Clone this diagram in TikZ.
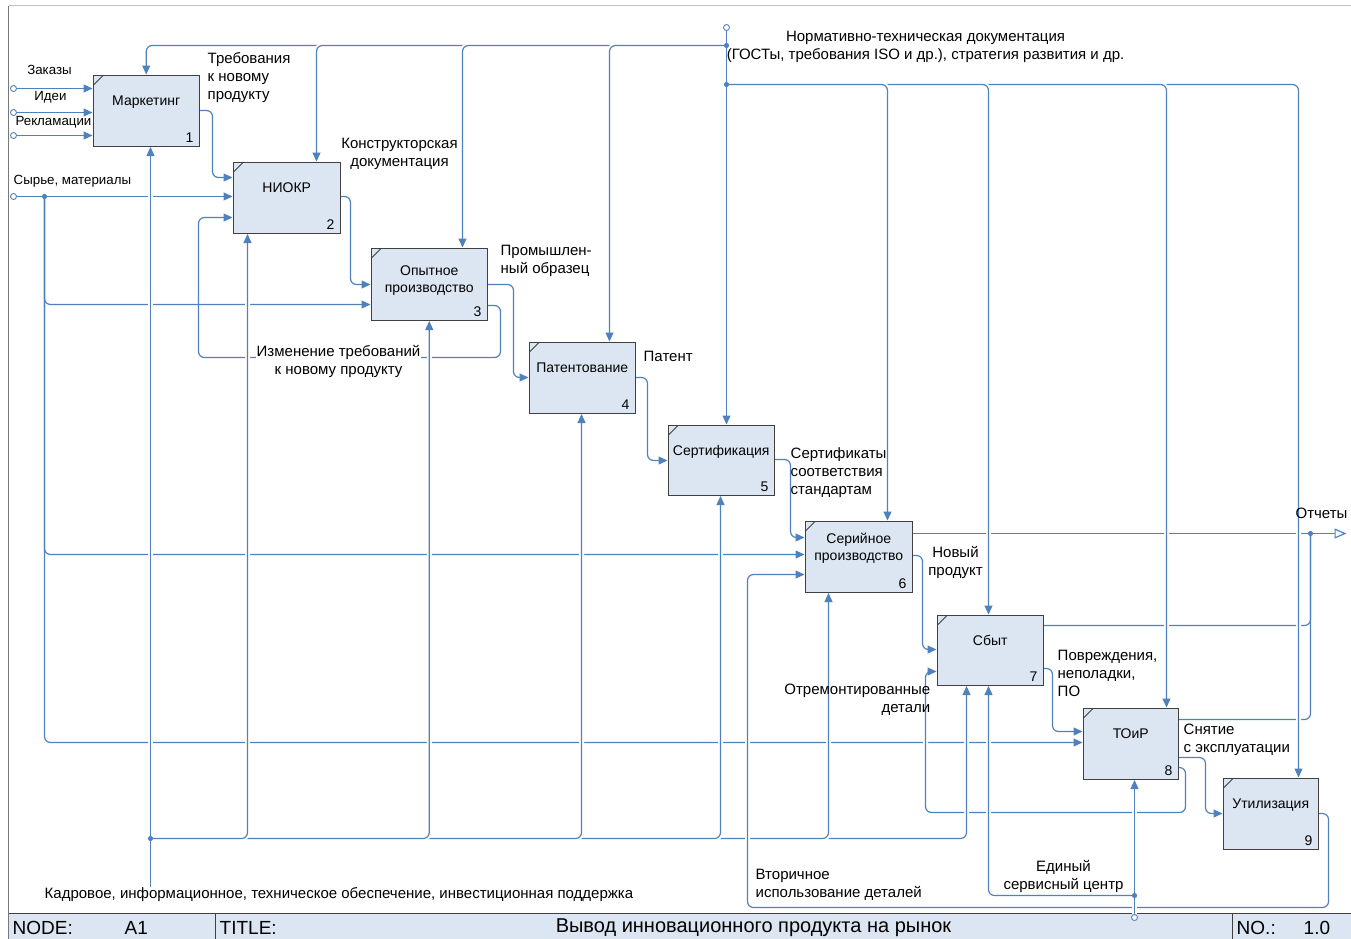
\documentclass[tikz,border=0pt]{standalone}
\usepackage{fontspec}
\setmainfont{Liberation Sans}
\usetikzlibrary{positioning, arrows.meta}
\definecolor{flowblue}{RGB}{79,129,189}
\definecolor{boxfill}{RGB}{220,230,242}
\definecolor{boxline}{RGB}{64,64,64}
\definecolor{framegray}{RGB}{120,120,120}
\newcommand{\boxfont}{\fontsize{14}{17}\selectfont}
\newcommand{\twolines}[2]{\begin{tabular}{@{}c@{}}#1\\#2\end{tabular}}
\tikzset{func/.style={
        draw=boxline,
        fill=boxfill,
        line width=1.5pt,
        anchor=north west,
        minimum width=106pt,
        minimum height=71pt,
        inner sep=0pt,
        text height=11pt,
        text depth=21pt,
        font=\boxfont,
        path picture={
          \draw[boxline, line width=0.9pt] ([yshift=-10pt]path picture bounding box.north west) -- ([xshift=10pt]path picture bounding box.north west);
          \node[anchor=south east, draw=none, fill=none, minimum width=0pt, minimum height=0pt, inner sep=0pt, text height={}, text depth={}] at ([xshift=-5pt,yshift=3pt]path picture bounding box.south east) {#1};
        }
}}
\tikzset{flow/.style={
        draw=flowblue,
        line width=1.2pt,
        rounded corners=6pt,
        -{Triangle[length=9pt,width=8pt]}
}}
\tikzset{over/.style={preaction={draw=white, line width=5pt, -}}}
\tikzset{port/.style={
        circle,
        draw=flowblue,
        fill=white,
        line width=0.9pt,
        inner sep=0pt,
        minimum size=6pt
}}
\tikzset{lbl/.style={font=\fontsize{15}{18}\selectfont, inner sep=0pt, align=left}}
\tikzset{inlbl/.style={font=\fontsize{13.3}{16}\selectfont, inner sep=0pt}}
\tikzset{bar/.style={font=\fontsize{19}{21}\selectfont, inner sep=0pt}}

\begin{document}
\begin{tikzpicture}[x=1pt, y=-1pt]
\useasboundingbox (0,0) rectangle (1351,938);
\begin{scope}[shift={(0.5,0.5)}]

% frame and title bar
\fill[boxfill] (8,913) rectangle (1351,938);
\draw[gray!50, line width=1pt] (8,5) -- (1351,5);
\draw[framegray, line width=1.5pt] (8,5) -- (8,938);
\draw[boxline, line width=1.6pt] (8,913) -- (1351,913);
\draw[boxline, line width=1.2pt] (215,913) -- (215,938) (1232,913) -- (1232,938);
\node[bar, anchor=west] (tNode) at (12,927) {NODE:};
\node[bar, anchor=west] (tA1) at (124,927) {A1};
\node[bar, anchor=west] (tTitle) at (219,927) {TITLE:};
\node[bar, font=\fontsize{20}{22}\selectfont] (tName) at (753,927) {Вывод инновационного продукта на рынок};
\node[bar, anchor=west] (tNo) at (1236,927) {NO.:};
\node[bar, anchor=west] (tVer) at (1303,927) {1.0};

% functions
\node[func=1] (mkt) at (92,74) {Маркетинг};
\node[func=2, minimum width=107pt] (niokr) at (232,161) {НИОКР};
\node[func=3, minimum width=116pt, minimum height=72pt, text depth=12pt] (opyt) at (370,247) {\twolines{Опытное}{производство}};
\node[func=4] (pat) at (528,341) {Патентование};
\node[func=5, minimum height=70pt] (sert) at (667,424) {Сертификация};
\node[func=6, minimum width=107pt] (ser) at (804,520) {\twolines{Серийное}{производство}};
\node[func=7, minimum height=70pt] (sbyt) at (936,614) {Сбыт};
\node[func=8, minimum width=95pt] (toir) at (1082,707) {ТОиР};
\node[func=9, minimum width=95pt] (util) at (1222,777) {Утилизация};

% ends and junctions
\node[port] (oOrd) at (13,88) {};
\node[port] (oIdea) at (13,112) {};
\node[port] (oCompl) at (13,135) {};
\node[port] (oRaw) at (13,196) {};
\node[port] (oNorm) at (726,27) {};
\node[port] (oServ) at (1134,917) {};
\coordinate (jRaw) at (44,196);
\coordinate (jNorm1) at (726,45);
\coordinate (jNorm2) at (726,84);
\coordinate (jMech) at (150,838);
\coordinate (jRep) at (1310,533);
\coordinate (jServ) at (1134,895);
\coordinate (cRep) at (1346,533);

% inputs
\draw[flow] (oOrd) -- (mkt.west |- oOrd);
\draw[flow] (oIdea) -- (mkt.west |- oIdea);
\draw[flow] (oCompl) -- (mkt.west |- oCompl);
\draw[flow] (oRaw) -- (niokr.west |- oRaw);
\draw[flow] (jRaw) |- (toir.west |- 0,742);
\draw[flow] (jRaw) |- (ser.west |- 0,554);
\draw[flow] (jRaw) |- (opyt.west |- 0,304);

% outputs
\draw[flow] (mkt.east |- 0,110) -| (212,177) -- (niokr.west |- 0,177);
\draw[flow] (niokr.east |- 0,196) -| (350,284) -- (opyt.west |- 0,284);
\draw[flow] (opyt.east |- 0,284) -| (513,377) -- (pat.west |- 0,377);
\draw[flow] (opyt.east |- 0,305) -| (500,357) -| (198,217) -- (niokr.west |- 0,217);
\draw[flow] (pat.east |- 0,377) -| (647,460) -- (sert.west |- 0,460);
\draw[flow] (sert.east |- 0,459) -| (790,537) -- (ser.west |- 0,537);
\draw[flow, -{Triangle[open,length=12pt,width=10pt]}] (ser.east |- 0,533) -- (cRep);
\draw[flow] (ser.east |- 0,555) -| (922,649) -- (sbyt.west |- 0,649);
\draw[flow, -] (sbyt.east |- 0,625) -| (jRep);
\draw[flow] (sbyt.east |- 0,668) -| (1052,731) -- (toir.west |- 0,731);
\draw[flow, -] (toir.east |- 0,719) -| (jRep);
\draw[flow] (toir.east |- 0,757) -| (1205,813) -- (util.west |- 0,813);
\draw[flow, over] (toir.east |- 0,767) -| (1185,812) -| (925,671) [rounded corners=3pt] -- (sbyt.west |- 0,671);

% mechanisms
\draw[flow, over] (jMech) -| (sbyt.south -| 966,0);
\draw[flow, over] (jMech) -| (ser.south -| 828,0);
\draw[flow, over] (jMech) -| (sert.south -| 720,0);
\draw[flow, over] (jMech) -| (pat.south -| 581,0);
\draw[flow, over] (jMech) -| (opyt.south);
\draw[flow, over] (jMech) -| (niokr.south -| 247,0);
\node[lbl, anchor=north west] (lMech) at (44,886.5) {Кадровое, информационное, техническое обеспечение, инвестиционная поддержка};
\draw[flow, over] (lMech.north -| jMech) -- (mkt.south -| jMech);

\draw[flow, over] (util.east |- 0,813) -| (1328,907) -| (747,574) -- (ser.west |- 0,574);

\draw[flow, over] (jServ) -| (sbyt.south -| 988,0);
\draw[flow, over] (oServ) -- (toir.south -| oServ);

% controls
\draw[flow, over] (jNorm2) -| (util.north -| 1298,0);
\draw[flow, over] (jNorm2) -| (toir.north -| 1166,0);
\draw[flow, over] (jNorm2) -| (sbyt.north -| 988,0);
\draw[flow, over] (jNorm2) -| (ser.north -| 887,0);
\draw[flow, over] (jNorm1) -| (mkt.north);
\draw[flow, over] (jNorm1) -| (niokr.north -| 316,0);
\draw[flow, over] (jNorm1) -| (opyt.north -| 462,0);
\draw[flow, over] (jNorm1) -| (pat.north -| 609,0);
\draw[flow] (oNorm) -- (sert.north -| oNorm);

\foreach \j in {jRaw, jNorm1, jNorm2, jMech, jRep, jServ}
  \fill[flowblue] (\j) circle (2.6pt);

% labels
\node[inlbl, anchor=north] (lOrd) at (49,65) {Заказы};
\node[inlbl, anchor=north] (lIdea) at (50,91) {Идеи};
\node[inlbl, anchor=north] (lCompl) at (53,115.5) {Рекламации};
\node[inlbl, anchor=north west] (lRaw) at (13,175) {Сырье, материалы};
\node[lbl, anchor=north west] (lReq) at (207,51.5) {Требования\\к новому\\продукту};
\node[lbl, anchor=north, align=center] (lDoc) at (399,137.5) {Конструкторская\\документация};
\node[lbl, anchor=north west] (lSample) at (500,244.5) {Промышлен-\\ный образец};
\node[lbl, anchor=north, align=center, fill=white, inner sep=1pt] (lChange) at (338,343.5) {Изменение требований\\к новому продукту};
\node[lbl, anchor=north west] (lPat) at (643,350.5) {Патент};
\node[lbl, anchor=north west] (lCert) at (790,446.5) {Сертификаты\\соответствия\\стандартам};
\node[lbl, anchor=north, align=center] (lProd) at (955,545.5) {Новый\\продукт};
\node[lbl, anchor=north] (lRep) at (1321,507.5) {Отчеты};
\node[lbl, anchor=north west] (lFault) at (1057,649.5) {Повреждения,\\неполадки,\\ПО};
\node[lbl, anchor=north east, align=right] (lRepair) at (930,683.5) {Отремонтированные\\детали};
\node[lbl, anchor=north west] (lOff) at (1183,723.5) {Снятие\\с эксплуатации};
\node[lbl, anchor=north west] (lReuse) at (755,868.5) {Вторичное\\использование деталей};
\node[lbl, anchor=north, align=center] (lServ) at (1063,859.5) {Единый\\сервисный центр};
\node[lbl, anchor=north, align=center] (lNorm) at (925,30.5) {Нормативно-техническая документация\\(ГОСТы, требования ISO и др.), стратегия развития и др.};
\end{scope}
\end{tikzpicture}
\end{document}
